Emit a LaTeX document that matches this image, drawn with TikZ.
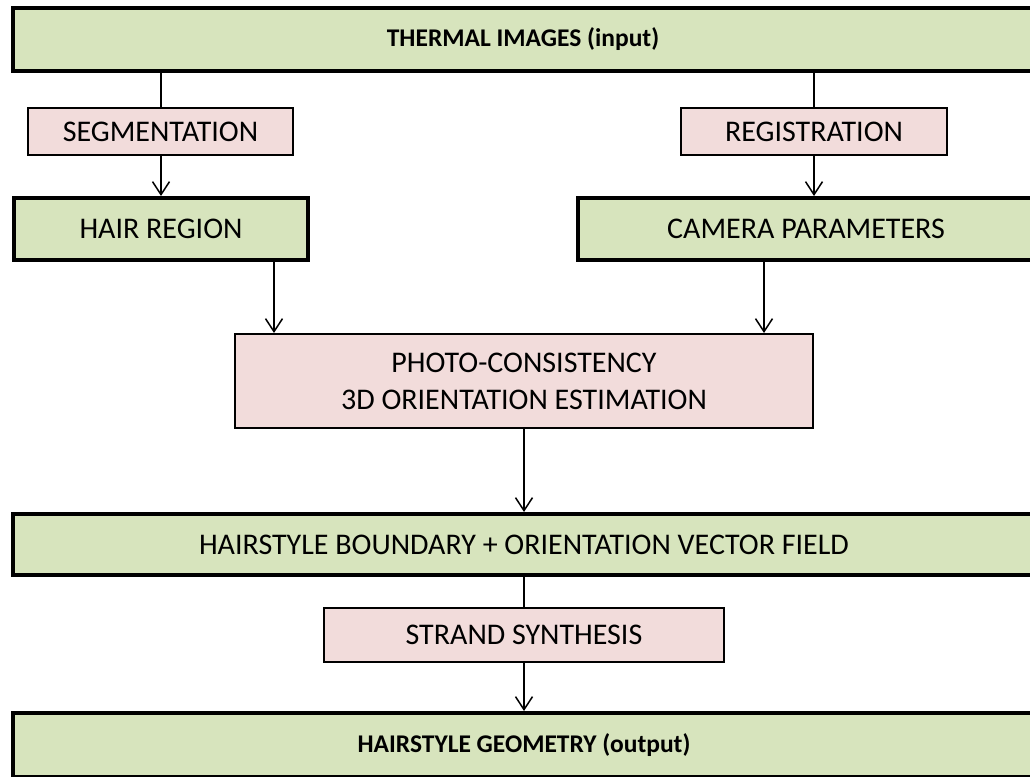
\documentclass[tikz,border=0pt]{standalone}
\usepackage{fontspec}
\setmainfont{Carlito}
\usetikzlibrary{arrows.meta}
\definecolor{boxgreen}{HTML}{D7E4BD}
\definecolor{boxpink}{HTML}{F2DCDB}
\tikzset{
  greenbox/.style={draw=black, line width=4pt, fill=boxgreen, rectangle, inner sep=0pt, align=center, font=\fontsize{30}{37}\selectfont},
  pinkbox/.style={draw=black, line width=2pt, fill=boxpink, rectangle, inner sep=0pt, align=center, font=\fontsize{30}{37}\selectfont},
  boldtext/.style={font=\fontsize{25.5}{30}\selectfont\bfseries},
  link/.style={draw=black, line width=1.5pt},
  arr/.style={link, -{Straight Barb[length=13pt,width=17pt,line width=1.5pt]}}
}
\begin{document}
\begin{tikzpicture}[x=1pt,y=-1pt]
\useasboundingbox (0,0) rectangle (1030,776);
\begin{scope}
\clip (0,0) rectangle (1030,776);
\node[greenbox, boldtext, minimum width=1020pt, minimum height=63pt] (top) at (523,39.5) {THERMAL IMAGES (input)};
\node[pinkbox, minimum width=265pt, minimum height=47pt] (seg) at (160.5,131.5) {SEGMENTATION};
\node[pinkbox, minimum width=266pt, minimum height=47pt] (reg) at (814,131.5) {REGISTRATION};
\node[greenbox, minimum width=294pt, minimum height=62pt] (hair) at (161,229) {HAIR REGION};
\node[greenbox, minimum width=456pt, minimum height=62pt] (cam) at (806,229) {CAMERA PARAMETERS};
\node[pinkbox, minimum width=578pt, minimum height=94pt] (photo) at (524,381) {PHOTO-CONSISTENCY\\3D ORIENTATION ESTIMATION};
\node[greenbox, minimum width=1022pt, minimum height=61pt] (bound) at (524,544.5) {HAIRSTYLE BOUNDARY + ORIENTATION VECTOR FIELD};
\node[pinkbox, minimum width=400pt, minimum height=54pt] (strand) at (524,635) {STRAND SYNTHESIS};
\node[greenbox, boldtext, minimum width=1022pt, minimum height=64pt] (geom) at (524,745) {HAIRSTYLE GEOMETRY (output)};
\end{scope}
\coordinate (xa) at (161,0);
\coordinate (xb) at (814,0);
\coordinate (xc) at (274,0);
\coordinate (xd) at (764,0);
\coordinate (xe) at (524,0);
\draw[link] (top.south -| xa) -- (seg.north -| xa);
\draw[arr] (seg.south -| xa) -- (hair.north -| xa);
\draw[link] (top.south -| xb) -- (reg.north -| xb);
\draw[arr] (reg.south -| xb) -- (cam.north -| xb);
\draw[arr] (hair.south -| xc) -- (photo.north -| xc);
\draw[arr] (cam.south -| xd) -- (photo.north -| xd);
\draw[arr] (photo.south -| xe) -- (bound.north -| xe);
\draw[link] (bound.south -| xe) -- (strand.north -| xe);
\draw[arr] (strand.south -| xe) -- (geom.north -| xe);
\end{tikzpicture}
\end{document}
